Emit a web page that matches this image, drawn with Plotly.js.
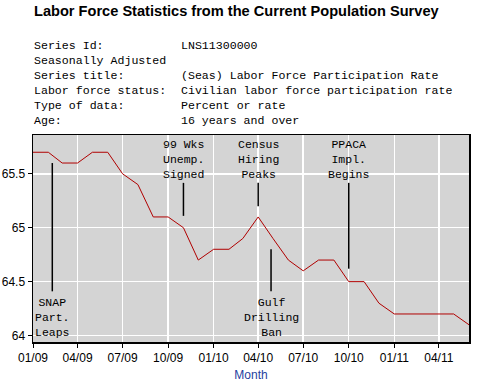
<!DOCTYPE html>
<html><head><meta charset="utf-8">
<script src="https://cdn.plot.ly/plotly-3.0.1.min.js"></script>
<style>html,body{margin:0;padding:0;background:#fff}#chart{width:480px;height:390px}</style>
</head><body><div id="chart"></div>
<script>
// Data
const months = ["2009-01-01","2009-02-01","2009-03-01","2009-04-01","2009-05-01","2009-06-01",
  "2009-07-01","2009-08-01","2009-09-01","2009-10-01","2009-11-01","2009-12-01",
  "2010-01-01","2010-02-01","2010-03-01","2010-04-01","2010-05-01","2010-06-01",
  "2010-07-01","2010-08-01","2010-09-01","2010-10-01","2010-11-01","2010-12-01",
  "2011-01-01","2011-02-01","2011-03-01","2011-04-01","2011-05-01","2011-06-01"];
const rate = [65.7,65.7,65.6,65.6,65.7,65.7,65.5,65.4,65.1,65.1,65.0,64.7,
  64.8,64.8,64.9,65.1,64.9,64.7,64.6,64.7,64.7,64.5,64.5,64.3,
  64.2,64.2,64.2,64.2,64.2,64.1];
const headerLabels = ["Series Id:","Seasonally Adjusted","Series title:","Labor force status:","Type of data:","Age:"];
const headerValues = ["LNS11300000","","(Seas) Labor Force Participation Rate","Civilian labor force participation rate","Percent or rate","16 years and over"];
const eventLabels = ["SNAP<br>Part.<br>Leaps","99 Wks<br>Unemp.<br>Signed","Census<br>Hiring<br>Peaks","Gulf<br>Drilling<br>Ban","PPACA<br>Impl.<br>Begins"];
const eventDates = ["2009-02-09","2009-11-01","2010-04-01","2010-04-27","2010-10-01"];
const eventTop = [65.6,65.416,65.416,64.8,65.416];
const eventBottom = [64.41,65.11,65.2,64.41,64.62];
const eventSide = ["bottom","top","top","bottom","top"];

const mono = "'Courier New', 'Liberation Mono', monospace";
const annotations = [];
annotations.push({xref:'paper',yref:'paper',x:0,y:1,xanchor:'left',yanchor:'middle',
  xshift:-1,yshift:124,showarrow:false,align:'left',
  text:'<b>Labor Force Statistics from the Current Population Survey</b>',
  font:{family:"Arial, 'Liberation Sans', sans-serif",size:14.6,color:'#000'}});
headerLabels.forEach((t,i)=>{
  annotations.push({xref:'paper',yref:'paper',x:0,y:1,xanchor:'left',yanchor:'middle',
    xshift:-1,yshift:90-15*i,showarrow:false,text:t,font:{family:mono,size:11.6,color:'#000'}});
  if(headerValues[i]) annotations.push({xref:'paper',yref:'paper',x:0,y:1,xanchor:'left',yanchor:'middle',
    xshift:146,yshift:90-15*i,showarrow:false,text:headerValues[i],font:{family:mono,size:11.6,color:'#000'}});
});
const shapes = [];
eventLabels.forEach((t,i)=>{
  shapes.push({type:'line',xref:'x',yref:'y',x0:eventDates[i],x1:eventDates[i],y0:eventBottom[i],y1:eventTop[i],
    line:{color:'#000',width:1.5}});
  const top = eventSide[i]==='top';
  annotations.push({xref:'x',yref:'paper',x:eventDates[i],y:top?1:0,xanchor:'center',
    yanchor:top?'top':'bottom',yshift:top?-1:1,showarrow:false,text:t,align:'center',
    font:{family:mono,size:11.5,color:'#000'}});
});

const trace = {x:months,y:rate,type:'scatter',mode:'lines',line:{color:'#b00000',width:1},hoverinfo:'skip'};
const layout = {
  width:480,height:390,margin:{l:33,r:11,t:135,b:48},
  paper_bgcolor:'#fff',plot_bgcolor:'#d4d4d4',showlegend:false,
  font:{family:"Arial, 'Liberation Sans', sans-serif",size:12,color:'#000'},
  xaxis:{type:'date',range:['2009-01-01','2011-06-01'],tick0:'2009-01-01',dtick:'M3',tickformat:'%m/%y',
    showgrid:true,gridcolor:'#fff',gridwidth:1.5,showline:true,linecolor:'#000',linewidth:1.5,mirror:true,
    ticks:'outside',ticklen:4,tickcolor:'#000',tickfont:{size:12,color:'#000'},zeroline:false,
    title:{text:'Month',font:{size:12,color:'#1f3fa0'},standoff:6}},
  yaxis:{range:[63.94,65.86],tickvals:[64,64.5,65,65.5],ticktext:['64','64.5','65','65.5'],
    showgrid:true,gridcolor:'#fff',gridwidth:1.5,showline:true,linecolor:'#000',linewidth:1.5,mirror:true,
    ticks:'outside',ticklen:4,tickcolor:'#000',tickfont:{size:12,color:'#000'},zeroline:false},
  shapes:shapes,annotations:annotations
};
Plotly.newPlot('chart',[trace],layout,{staticPlot:true,displayModeBar:false});
</script></body></html>
